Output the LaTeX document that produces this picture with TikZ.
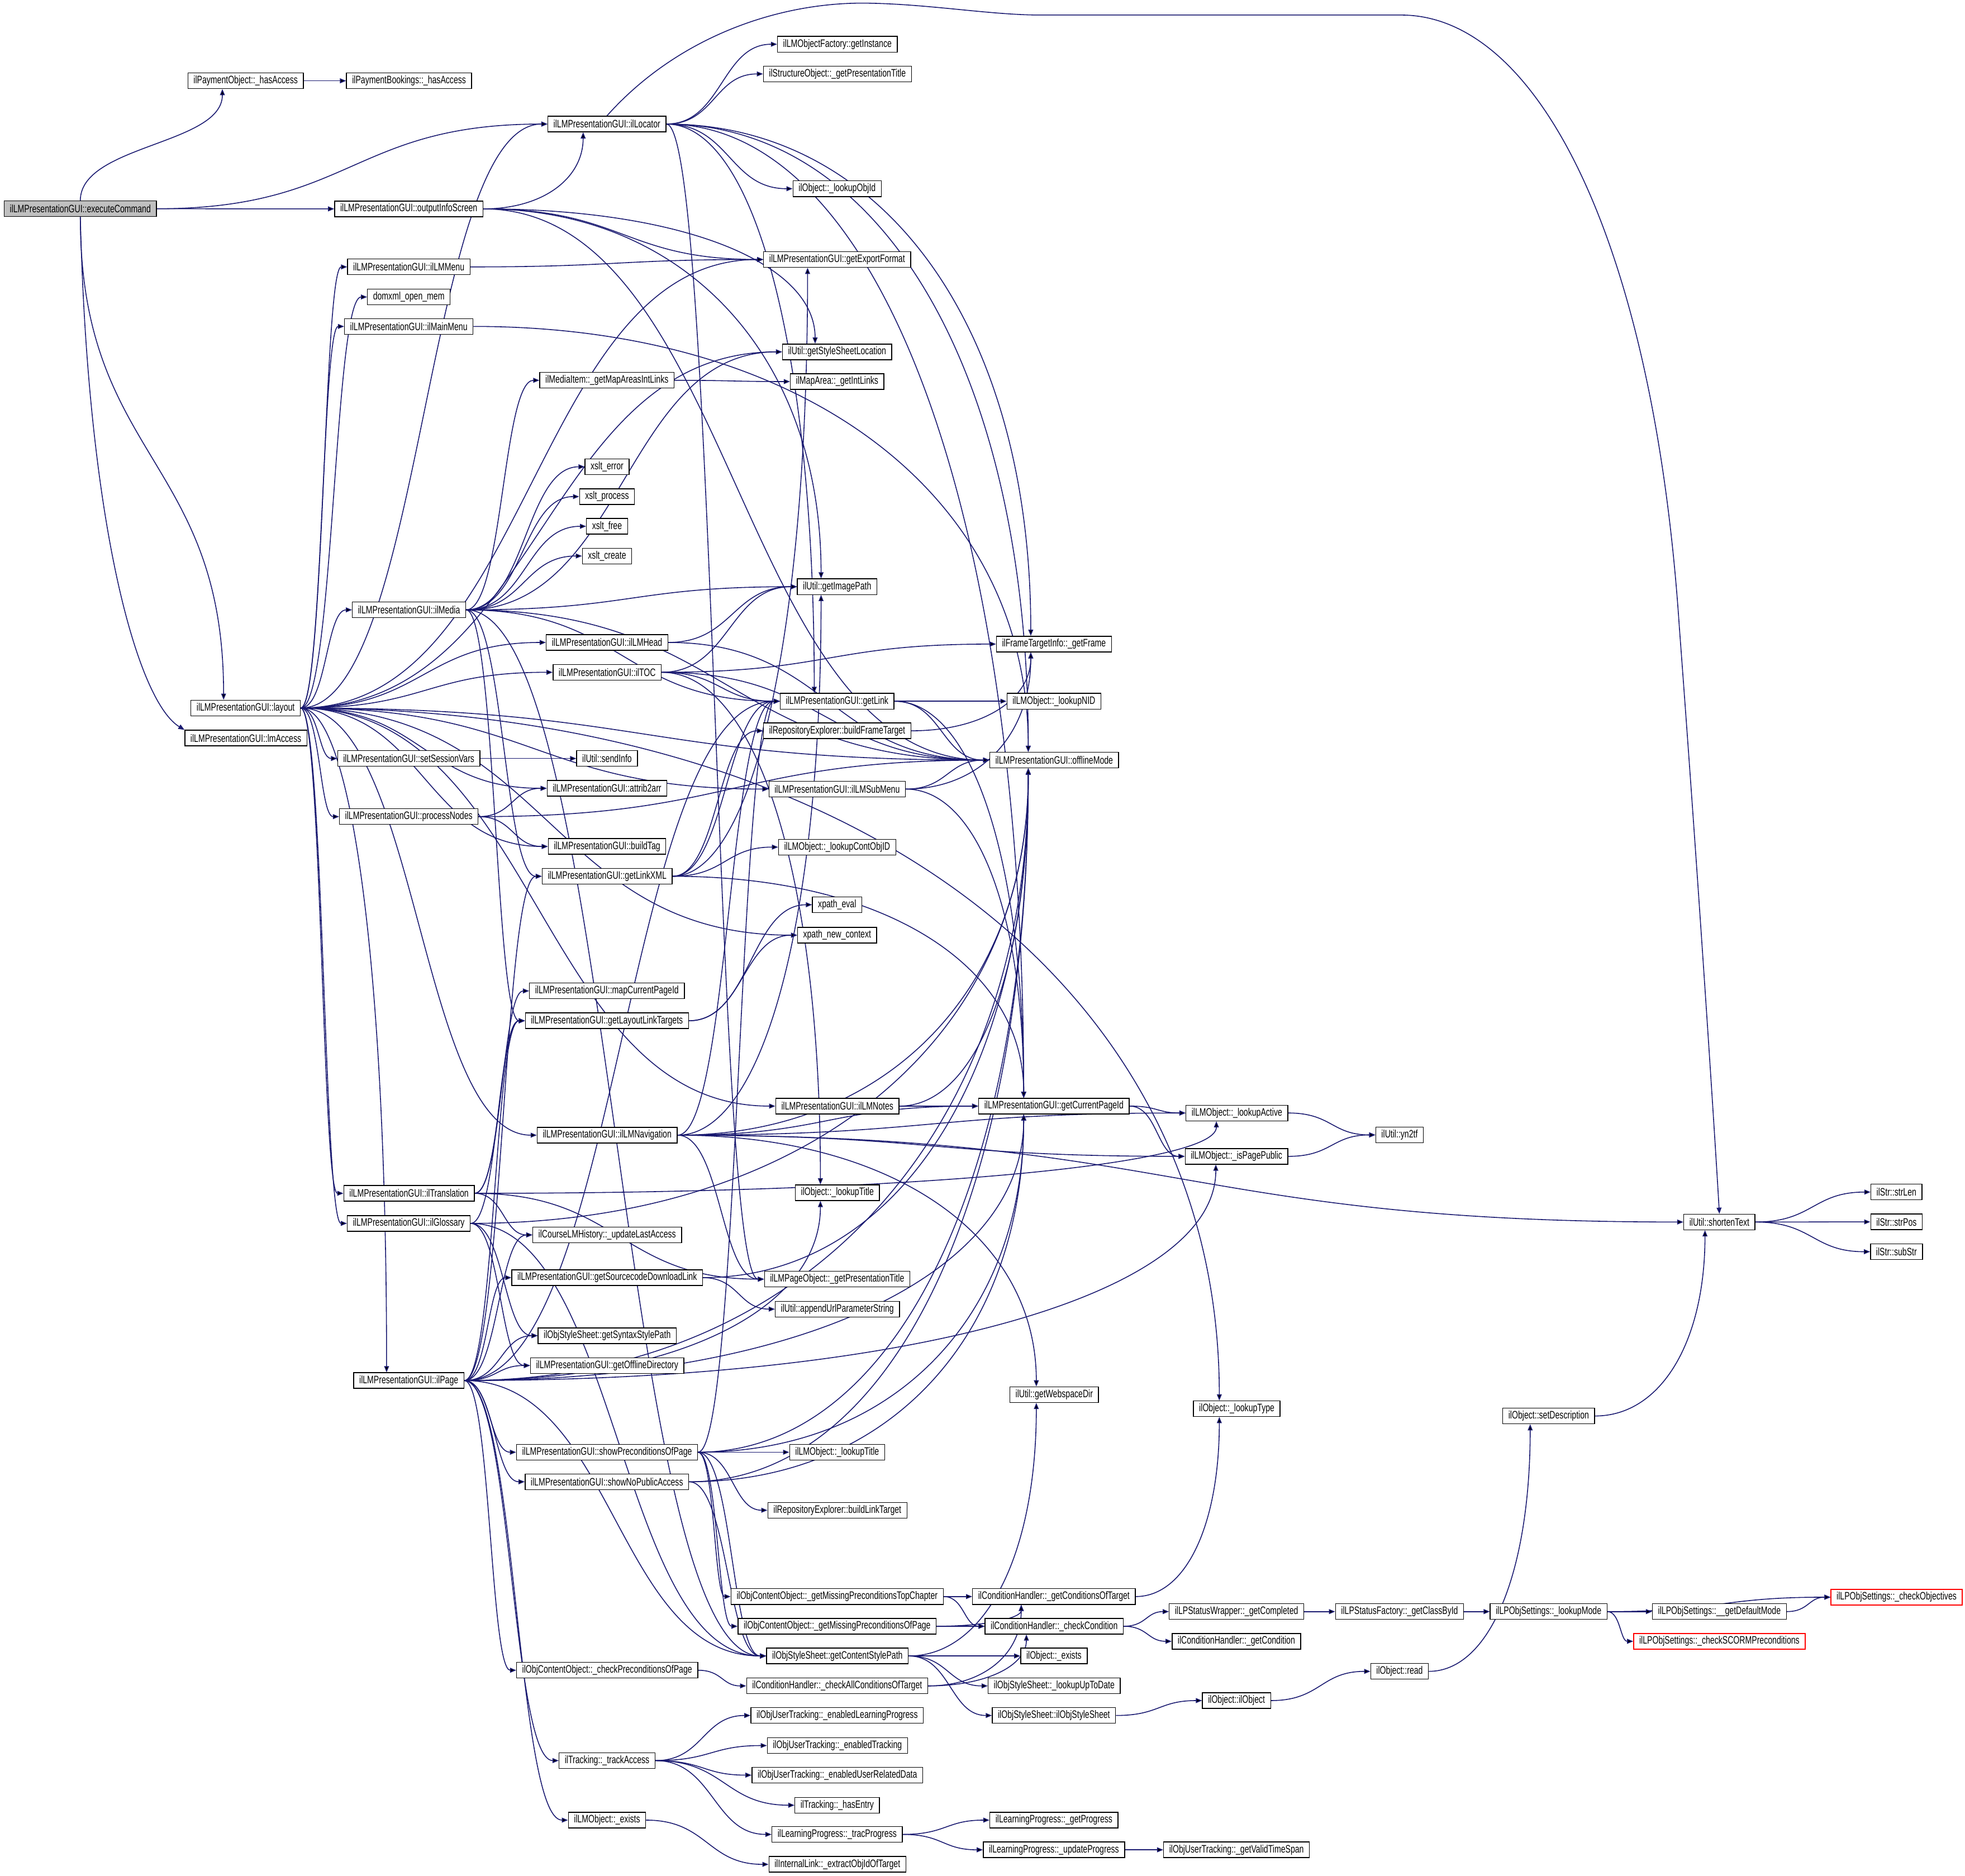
\documentclass[tikz,border=0pt]{standalone}
\usepackage{fontspec}
\newfontfamily\dxfont{Liberation Sans}[FakeStretch=0.73]
\usetikzlibrary{arrows.meta,calc}
\pgfdeclarelayer{background}
\pgfsetlayers{background,main}
\definecolor{edgeblue}{HTML}{191970}
\definecolor{rootgray}{HTML}{BFBFBF}

\begin{document}
\begin{tikzpicture}[x=0.02cm,y=-0.02cm,
  fn/.style={draw=black,line width=0.35pt,fill=white,inner xsep=0.09cm,inner ysep=0pt,
    minimum height=0.25cm,font=\dxfont\fontsize{4.9}{5}\selectfont},
  root/.style={fn,fill=rootgray},
  stub/.style={fn,draw=red},
  call/.style={draw=edgeblue,line width=0.4pt,-{Triangle[length=2.8pt,width=2.2pt]},
    to path={let \p1=(\tikztostart.east), \p2=(\tikztotarget.west), \n1={0.5*(\x2-\x1)} in
      (\p1) .. controls +(\n1,0pt) and +(-\n1,0pt) .. (\p2)}},
  edown/.style={to path={let \p1=(\tikztostart.east),
      \p2=($(\tikztotarget.north west)!0.3!(\tikztotarget.north east)$),
      \n1={0.6*(\x2-\x1)}, \n2={0.6*(\y1-\y2)} in
      (\p1) .. controls +(\n1,0pt) and +(0pt,\n2) .. (\p2)}},
  eup/.style={to path={let \p1=(\tikztostart.east),
      \p2=($(\tikztotarget.south west)!0.3!(\tikztotarget.south east)$),
      \n1={0.6*(\x2-\x1)}, \n2={0.6*(\y2-\y1)} in
      (\p1) .. controls +(\n1,0pt) and +(0pt,-\n2) .. (\p2)}},
  tdown/.style={to path={let \p1=(\tikztostart.south),
      \p2=($(\tikztotarget.north west)!0.3!(\tikztotarget.north east)$),
      \n1={0.5*(\y1-\y2)} in
      (\p1) .. controls +(0pt,-\n1) and +(0pt,\n1) .. (\p2)}},
  tup/.style={to path={let \p1=(\tikztostart.north),
      \p2=($(\tikztotarget.south west)!0.3!(\tikztotarget.south east)$),
      \n1={0.5*(\y2-\y1)} in
      (\p1) .. controls +(0pt,\n1) and +(0pt,-\n1) .. (\p2)}}]
\useasboundingbox (0,0) rectangle (1568,1497);

% callers, left part
\node[root] (ec) at (64.1,166.6) {ilLMPresentationGUI::executeCommand};
\node[fn] (payObj) at (196,64.5) {ilPaymentObject::\_hasAccess};
\node[fn] (payBook) at (326.4,64.5) {ilPaymentBookings::\_hasAccess};
\node[fn] (loc) at (484.3,99) {ilLMPresentationGUI::ilLocator};
\node[fn] (ois) at (326.2,166.7) {ilLMPresentationGUI::outputInfoScreen};
\node[fn] (lmMenu) at (326.2,213) {ilLMPresentationGUI::ilLMMenu};
\node[fn] (domxml) at (326.2,237) {domxml\_open\_mem};
\node[fn] (mainMenu) at (326.2,260.5) {ilLMPresentationGUI::ilMainMenu};
\node[fn] (mapAreas) at (484.3,303.5) {ilMediaItem::\_getMapAreasIntLinks};
\node[fn] (xsltErr) at (484.4,372.5) {xslt\_error};
\node[fn] (xsltProc) at (484.4,396.3) {xslt\_process};
\node[fn] (xsltFree) at (484.4,420) {xslt\_free};
\node[fn] (xsltCreate) at (484.4,443.7) {xslt\_create};
\node[fn] (media) at (326.4,486.7) {ilLMPresentationGUI::ilMedia};
\node[fn] (lmHead) at (484.4,512.7) {ilLMPresentationGUI::ilLMHead};
\node[fn] (toc) at (484.5,536.5) {ilLMPresentationGUI::ilTOC};
\node[fn] (layout) at (196,565) {ilLMPresentationGUI::layout};
\node[fn] (lmAccess) at (196.2,589) {ilLMPresentationGUI::lmAccess};
\node[fn] (session) at (326.2,605.3) {ilLMPresentationGUI::setSessionVars};
\node[fn] (sendInfo) at (484.4,605.3) {ilUtil::sendInfo};
\node[fn] (attrib) at (484.4,629.1) {ilLMPresentationGUI::attrib2arr};
\node[fn] (procNodes) at (326.2,651.7) {ilLMPresentationGUI::processNodes};
\node[fn] (buildTag) at (484.4,675.5) {ilLMPresentationGUI::buildTag};
\node[fn] (linkXML) at (484.5,699.3) {ilLMPresentationGUI::getLinkXML};
\node[fn] (mapCur) at (484.3,790.8) {ilLMPresentationGUI::mapCurrentPageId};
\node[fn] (linkTargets) at (484.3,814.6) {ilLMPresentationGUI::getLayoutLinkTargets};
\node[fn] (lmNav) at (484.5,905.9) {ilLMPresentationGUI::ilLMNavigation};
\node[fn] (transl) at (326.4,952.3) {ilLMPresentationGUI::ilTranslation};
\node[fn] (gloss) at (326.2,976.3) {ilLMPresentationGUI::ilGlossary};
\node[fn] (lastAccess) at (484.5,985.5) {ilCourseLMHistory::\_updateLastAccess};
\node[fn] (srcLink) at (484.5,1019.6) {ilLMPresentationGUI::getSourcecodeDownloadLink};
\node[fn] (syntaxPath) at (484.5,1065.9) {ilObjStyleSheet::getSyntaxStylePath};
\node[fn] (offDir) at (484.5,1089.7) {ilLMPresentationGUI::getOfflineDirectory};
\node[fn] (page) at (326.2,1101.7) {ilLMPresentationGUI::ilPage};
\node[fn] (showPre) at (484.4,1158.9) {ilLMPresentationGUI::showPreconditionsOfPage};
\node[fn] (noPublic) at (484.3,1182.5) {ilLMPresentationGUI::showNoPublicAccess};
\node[fn] (checkPre) at (484.5,1332.9) {ilObjContentObject::\_checkPreconditionsOfPage};
\node[fn] (track) at (484.4,1405) {ilTracking::\_trackAccess};
\node[fn] (lmExists) at (484.4,1452.5) {ilLMObject::\_exists};

% middle column
\node[fn] (factory) at (668.2,35.3) {ilLMObjectFactory::getInstance};
\node[fn] (structTitle) at (668.2,59) {ilStructureObject::\_getPresentationTitle};
\node[fn] (objId) at (668,150.6) {ilObject::\_lookupObjId};
\node[fn] (exportFmt) at (668,207.1) {ilLMPresentationGUI::getExportFormat};
\node[fn] (styleLoc) at (668,280.8) {ilUtil::getStyleSheetLocation};
\node[fn] (intLinks) at (668,304.5) {ilMapArea::\_getIntLinks};
\node[fn] (imgPath) at (668,468.2) {ilUtil::getImagePath};
\node[fn] (getLink) at (668,559.6) {ilLMPresentationGUI::getLink};
\node[fn] (frameTarget) at (668,583.2) {ilRepositoryExplorer::buildFrameTarget};
\node[fn] (subMenu) at (668,629.7) {ilLMPresentationGUI::ilLMSubMenu};
\node[fn] (contObj) at (668,676) {ilLMObject::\_lookupContObjID};
\node[fn] (xEval) at (668,722) {xpath\_eval};
\node[fn] (xCtx) at (668,746.3) {xpath\_new\_context};
\node[fn] (notes) at (668.2,882.7) {ilLMPresentationGUI::ilLMNotes};
\node[fn] (objTitle) at (668.2,951.8) {ilObject::\_lookupTitle};
\node[fn] (pageTitle) at (668,1020.8) {ilLMPageObject::\_getPresentationTitle};
\node[fn] (appendUrl) at (668.2,1044.7) {ilUtil::appendUrlParameterString};
\node[fn] (lmTitle) at (668,1158.9) {ilLMObject::\_lookupTitle};
\node[fn] (linkTarget) at (668.2,1205.2) {ilRepositoryExplorer::buildLinkTarget};
\node[fn] (missTop) at (668,1274.1) {ilObjContentObject::\_getMissingPreconditionsTopChapter};
\node[fn] (missPage) at (668,1297.8) {ilObjContentObject::\_getMissingPreconditionsOfPage};
\node[fn] (contStyle) at (668.2,1321.5) {ilObjStyleSheet::getContentStylePath};
\node[fn] (checkAll) at (668,1345.4) {ilConditionHandler::\_checkAllConditionsOfTarget};
\node[fn] (lpEnabled) at (668,1369) {ilObjUserTracking::\_enabledLearningProgress};
\node[fn] (trEnabled) at (668.2,1393) {ilObjUserTracking::\_enabledTracking};
\node[fn] (urdEnabled) at (668.2,1416.6) {ilObjUserTracking::\_enabledUserRelatedData};
\node[fn] (hasEntry) at (668,1440.6) {ilTracking::\_hasEntry};
\node[fn] (tracProg) at (668,1463.9) {ilLearningProgress::\_tracProgress};
\node[fn] (extractId) at (668.2,1487.8) {ilInternalLink::\_extractObjIdOfTarget};

% right part
\node[fn] (getFrame) at (841,514) {ilFrameTargetInfo::\_getFrame};
\node[fn] (nid) at (841,559.6) {ilLMObject::\_lookupNID};
\node[fn] (offline) at (841.2,606.6) {ilLMPresentationGUI::offlineMode};
\node[fn] (curPage) at (841,882.7) {ilLMPresentationGUI::getCurrentPageId};
\node[fn] (webspace) at (841.2,1113) {ilUtil::getWebspaceDir};
\node[fn] (condTarget) at (841,1274.1) {ilConditionHandler::\_getConditionsOfTarget};
\node[fn] (checkCond) at (841.2,1297.8) {ilConditionHandler::\_checkCondition};
\node[fn] (objExists) at (841,1321.5) {ilObject::\_exists};
\node[fn] (upToDate) at (841.2,1345.4) {ilObjStyleSheet::\_lookupUpToDate};
\node[fn] (styleSheet) at (841,1369) {ilObjStyleSheet::ilObjStyleSheet};
\node[fn] (getProg) at (841,1452.5) {ilLearningProgress::\_getProgress};
\node[fn] (updProg) at (841,1476.2) {ilLearningProgress::\_updateProgress};
\node[fn] (active) at (987,888.2) {ilLMObject::\_lookupActive};
\node[fn] (pagePublic) at (986.7,922.8) {ilLMObject::\_isPagePublic};
\node[fn] (objType) at (986.9,1124.2) {ilObject::\_lookupType};
\node[fn] (completed) at (986.7,1286.1) {ilLPStatusWrapper::\_getCompleted};
\node[fn] (getCond) at (986.6,1309.8) {ilConditionHandler::\_getCondition};
\node[fn] (ilObj) at (986.7,1357.1) {ilObject::ilObject};
\node[fn] (timeSpan) at (986.7,1476.2) {ilObjUserTracking::\_getValidTimeSpan};
\node[fn] (yn) at (1116.8,905.7) {ilUtil::yn2tf};
\node[fn] (classId) at (1116.8,1286.1) {ilLPStatusFactory::\_getClassById};
\node[fn] (objRead) at (1116.8,1333.8) {ilObject::read};
\node[fn] (setDesc) at (1235.8,1130) {ilObject::setDescription};
\node[fn] (lookupMode) at (1235.7,1286.1) {ilLPObjSettings::\_lookupMode};
\node[fn] (shorten) at (1372,975.2) {ilUtil::shortenText};
\node[fn] (defMode) at (1372,1286.1) {ilLPObjSettings::\_\_getDefaultMode};
\node[stub] (scorm) at (1372,1309.8) {ilLPObjSettings::\_checkSCORMPreconditions};
\node[fn] (strLen) at (1513.3,951.3) {ilStr::strLen};
\node[fn] (strPos) at (1513.3,975.1) {ilStr::strPos};
\node[fn] (subStr) at (1513.3,998.9) {ilStr::subStr};
\node[stub] (objectives) at (1513.4,1274.6) {ilLPObjSettings::\_checkObjectives};

\begin{pgfonlayer}{background}
\path[call] (ec) edge[tup] (payObj) edge (loc) edge (ois) edge[tdown] (layout);
\draw[call] (ec.south) .. controls (70,420) and (110,560) .. (lmAccess.north west);
\path[call] (payObj) edge (payBook);
\path[call] (loc) edge (factory) edge (structTitle) edge (objId) edge[edown] (getFrame)
  edge[edown] (offline) edge[edown] (getLink) edge (pageTitle) edge[edown] (curPage);
\draw[call] (loc.north) .. controls (540,30) and (620,2) .. (690,2.5)
  .. controls (740,3) and (790,12) .. (830,12) -- (1118,12)
  .. controls (1230,12) and (1320,200) .. (1340,500)
  .. controls (1355,700) and (1368,900) .. (shorten.north);
\path[call] (ois) edge[eup] (loc) edge (offline) edge (exportFmt) edge[edown] (styleLoc)
  edge[edown] (imgPath);
\path[call] (lmMenu) edge (exportFmt);
\path[call] (mainMenu) edge[edown] (offline);
\path[call] (layout) edge (loc) edge (offline) edge (exportFmt) edge (lmMenu) edge (domxml)
  edge (mainMenu) edge (styleLoc) edge (media) edge (lmHead) edge (toc) edge[edown] (objType)
  edge (session) edge (attrib) edge (procNodes) edge (buildTag) edge (subMenu) edge (xCtx)
  edge (notes) edge (lmNav) edge (transl) edge (gloss) edge[edown] (page);
\path[call] (media) edge (mapAreas) edge (xsltErr) edge (xsltProc) edge (xsltFree)
  edge (xsltCreate) edge (styleLoc) edge (imgPath) edge (offline) edge (getLink)
  edge (linkXML) edge (linkTargets) edge (contStyle);
\path[call] (mapAreas) edge (intLinks);
\path[call] (lmHead) edge (imgPath) edge (offline);
\path[call] (toc) edge (imgPath) edge (getFrame) edge (offline) edge (getLink) edge[edown] (objTitle);
\path[call] (session) edge (sendInfo);
\path[call] (procNodes) edge (attrib) edge (buildTag) edge (offline);
\path[call] (linkXML) edge (getLink) edge (contObj) edge (frameTarget) edge[edown] (curPage)
  edge[eup] (exportFmt);
\path[call] (frameTarget) edge[eup] (getFrame);
\path[call] (subMenu) edge[eup] (getFrame) edge (offline) edge[edown] (curPage);
\path[call] (getLink) edge (nid) edge (offline) edge[edown] (curPage);
\path[call] (linkTargets) edge (xEval) edge (xCtx);
\path[call] (lmNav) edge (getLink) edge[eup] (imgPath) edge (curPage) edge (active) edge (pagePublic)
  edge (shorten) edge (pageTitle) edge[eup] (offline) edge[edown] (webspace);
\path[call] (notes) edge (curPage) edge[eup] (offline);
\path[call] (curPage) edge (active) edge (pagePublic);
\path[call] (active) edge (yn);
\path[call] (pagePublic) edge (yn);
\path[call] (transl) edge (mapCur) edge (linkTargets) edge (lastAccess) edge (pageTitle) edge[eup] (active);
\path[call] (gloss) edge (linkTargets) edge (syntaxPath) edge (offDir) edge (contStyle) edge[eup] (offline);
\path[call] (page) edge (linkXML) edge (linkTargets) edge (getLink) edge (lastAccess) edge (srcLink)
  edge (syntaxPath) edge (offDir) edge (showPre) edge (noPublic) edge (checkPre) edge (track)
  edge (lmExists) edge (contStyle) edge[eup] (objTitle) edge[eup] (offline) edge[eup] (curPage)
  edge[eup] (pagePublic);
\path[call] (srcLink) edge (appendUrl) edge[eup] (offline);
\path[call] (showPre) edge (lmTitle) edge (linkTarget) edge (missTop) edge (missPage)
  edge (contStyle) edge (getLink) edge[eup] (curPage) edge[eup] (offline);
\path[call] (noPublic) edge (contStyle) edge[eup] (offline) edge[eup] (curPage);
\path[call] (checkPre) edge (checkAll);
\path[call] (missTop) edge (condTarget) edge (checkCond);
\path[call] (missPage) edge[eup] (condTarget) edge (checkCond);
\path[call] (checkAll) edge[eup] (condTarget) edge[eup] (checkCond);
\path[call] (contStyle) edge (objExists) edge (upToDate) edge (styleSheet) edge[eup] (webspace);
\path[call] (condTarget) edge[eup] (objType);
\path[call] (checkCond) edge (completed) edge (getCond);
\path[call] (completed) edge (classId);
\path[call] (classId) edge (lookupMode);
\path[call] (lookupMode) edge (objectives) edge (defMode) edge (scorm);
\path[call] (defMode) edge (objectives);
\path[call] (styleSheet) edge (ilObj);
\path[call] (ilObj) edge (objRead);
\path[call] (objRead) edge[eup] (setDesc);
\path[call] (setDesc) edge[eup] (shorten);
\path[call] (shorten) edge (strLen) edge (strPos) edge (subStr);
\path[call] (track) edge (lpEnabled) edge (trEnabled) edge (urdEnabled) edge (hasEntry) edge (tracProg);
\path[call] (lmExists) edge (extractId);
\path[call] (tracProg) edge (getProg) edge (updProg);
\path[call] (updProg) edge (timeSpan);
\end{pgfonlayer}
\end{tikzpicture}
\end{document}
